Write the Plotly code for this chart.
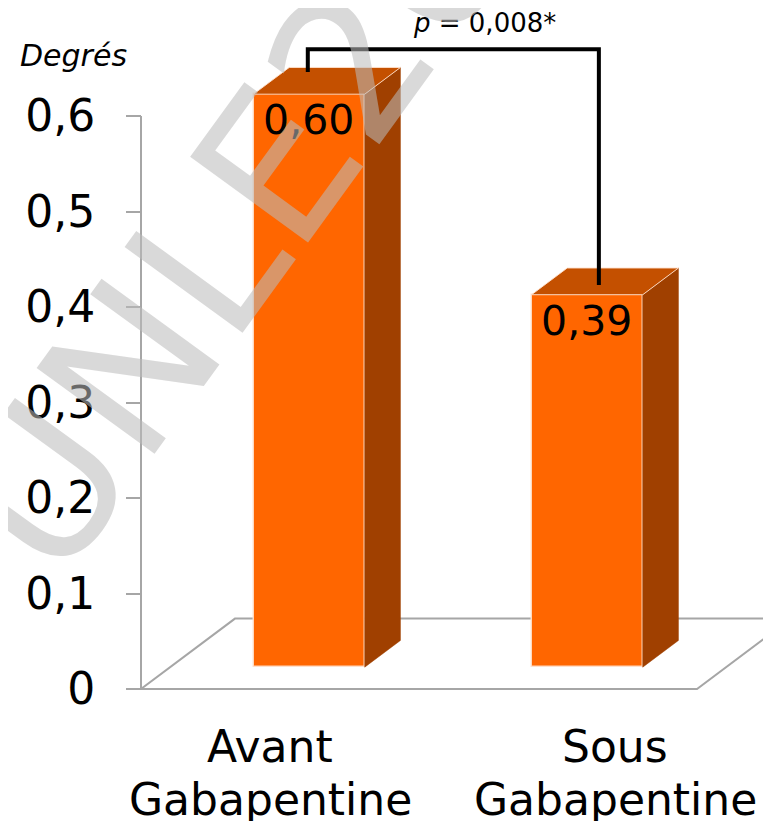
import plotly.graph_objects as go

categories = ["Avant Gabapentine", "Sous Gabapentine"]
values = [0.60, 0.39]
y_ticks = [0, 0.1, 0.2, 0.3, 0.4, 0.5, 0.6]
y_tick_labels = ["0", "0,1", "0,2", "0,3", "0,4", "0,5", "0,6"]
y_title = "Degrés"
p_text = "<i>p</i> = 0,008*"
watermark = "UNLE20"

# the page body has an 8px margin, so the figure is drawn 8px in
OFF = 8
W, H = 771 - OFF, 821 - OFF
FONT = "DejaVu Sans"

# fake 3D: depth vector of the floor (axis units) and bar placement in depth
DX, DY = 0.338, 0.0737
F0, F1 = 0.31, 0.69
BW = 0.40
PX_X, PX_Y = 278.0, 955.0          # pixels per axis unit
X0_PX, Y0_PX = 141 - OFF, 689 - OFF  # pixel of x=-0.5 and y=0
X_RANGE = [-0.5 - X0_PX / PX_X, -0.5 + (W - X0_PX) / PX_X]
Y_RANGE = [-(H - Y0_PX) / PX_Y, Y0_PX / PX_Y]

FRONT = "#FF6600"
TOP = "#C45000"
SIDE = "#A04000"
EDGE = "rgba(255,225,205,0.9)"
GRID = "#A6A6A6"

xs = list(range(len(categories)))

fig = go.Figure()

# side faces
for i, v in zip(xs, values):
    xr = i + BW / 2
    fig.add_trace(go.Scatter(
        x=[xr + F0 * DX, xr + F1 * DX, xr + F1 * DX, xr + F0 * DX, xr + F0 * DX],
        y=[F0 * DY, F1 * DY, v + F1 * DY, v + F0 * DY, F0 * DY],
        fill="toself", fillcolor=SIDE, mode="lines",
        line=dict(color=SIDE, width=0.5), hoverinfo="skip", showlegend=False))

# top faces
for i, v in zip(xs, values):
    xl, xr = i - BW / 2, i + BW / 2
    fig.add_trace(go.Scatter(
        x=[xl + F0 * DX, xr + F0 * DX, xr + F1 * DX, xl + F1 * DX, xl + F0 * DX],
        y=[v + F0 * DY, v + F0 * DY, v + F1 * DY, v + F1 * DY, v + F0 * DY],
        fill="toself", fillcolor=TOP, mode="lines",
        line=dict(color=EDGE, width=1), hoverinfo="skip", showlegend=False))

# front faces
fig.add_trace(go.Bar(
    x=[i + F0 * DX for i in xs], y=values, base=F0 * DY, width=BW,
    marker=dict(color=FRONT, line=dict(color=EDGE, width=1.5)),
    texttemplate="%{y:.2f}", textposition="inside", insidetextanchor="end",
    textangle=0, constraintext="none",
    textfont=dict(family=FONT, size=41, color="black"),
    hoverinfo="skip", showlegend=False))

# significance bracket
top = max(values) + 0.07
fig.add_trace(go.Scatter(
    x=[xs[0] + 0.10, xs[0] + 0.10, xs[1] + 0.147, xs[1] + 0.147],
    y=[values[0] + 0.046, top, top, values[1] + 0.033],
    mode="lines", line=dict(color="black", width=4),
    hoverinfo="skip", showlegend=False))

# floor and value axis line, drawn behind the bars
x0, x1 = -0.5, len(categories) - 0.5
shapes = [
    dict(type="path", xref="x", yref="y", layer="below",
         path=f"M{x0},0 L{x1},0 L{x1 + DX},{DY} L{x0 + DX},{DY} Z",
         line=dict(color=GRID, width=2)),
    dict(type="line", xref="x", yref="y", layer="below",
         x0=x0, x1=x0, y0=0, y1=max(y_ticks), line=dict(color=GRID, width=2)),
]


def px(xp, yp):
    return (xp - OFF) / W, 1 - (yp - OFF) / H


annotations = []
ax, ay = px(18, 56)
annotations.append(dict(
    text=f"<i>{y_title}</i>", x=ax, y=ay, xref="paper", yref="paper",
    xanchor="left", yanchor="middle", showarrow=False,
    font=dict(family=FONT, size=30, color="black")))
ax, ay = px(485, 23)
annotations.append(dict(
    text=p_text, x=ax, y=ay, xref="paper", yref="paper",
    xanchor="center", yanchor="middle", showarrow=False,
    font=dict(family=FONT, size=26, color="black")))

label_shift = [-10, 57]
for i, cat in enumerate(categories):
    for k, line in enumerate(cat.split(" ")):
        _, ay = px(0, 746 + 53 * k)
        annotations.append(dict(
            text=line, x=xs[i], xshift=label_shift[i], xref="x",
            y=ay, yref="paper",
            xanchor="center", yanchor="middle", showarrow=False,
            font=dict(family=FONT, size=44, color="black")))

ax, ay = px(232, 228)
annotations.append(dict(
    text=watermark, x=ax, y=ay, xref="paper", yref="paper",
    xanchor="center", yanchor="middle", showarrow=False, textangle=-54,
    font=dict(family=FONT, size=200, color="rgba(187,187,187,0.56)")))

fig.update_layout(
    width=W, height=H, template="none",
    margin=dict(l=0, r=0, t=0, b=0),
    paper_bgcolor="white", plot_bgcolor="white",
    separators=", ", bargap=0,
    shapes=shapes, annotations=annotations,
    xaxis=dict(range=X_RANGE, visible=False, fixedrange=True),
    yaxis=dict(range=Y_RANGE, anchor="free", position=X0_PX / W,
               tickvals=y_ticks, ticktext=y_tick_labels,
               ticks="outside", ticklen=15, tickwidth=2, tickcolor=GRID,
               ticklabelstandoff=22, showline=False, showgrid=False,
               zeroline=False, automargin=False, fixedrange=True,
               tickfont=dict(family=FONT, size=44, color="black")),
)

fig.write_html("out.html")
